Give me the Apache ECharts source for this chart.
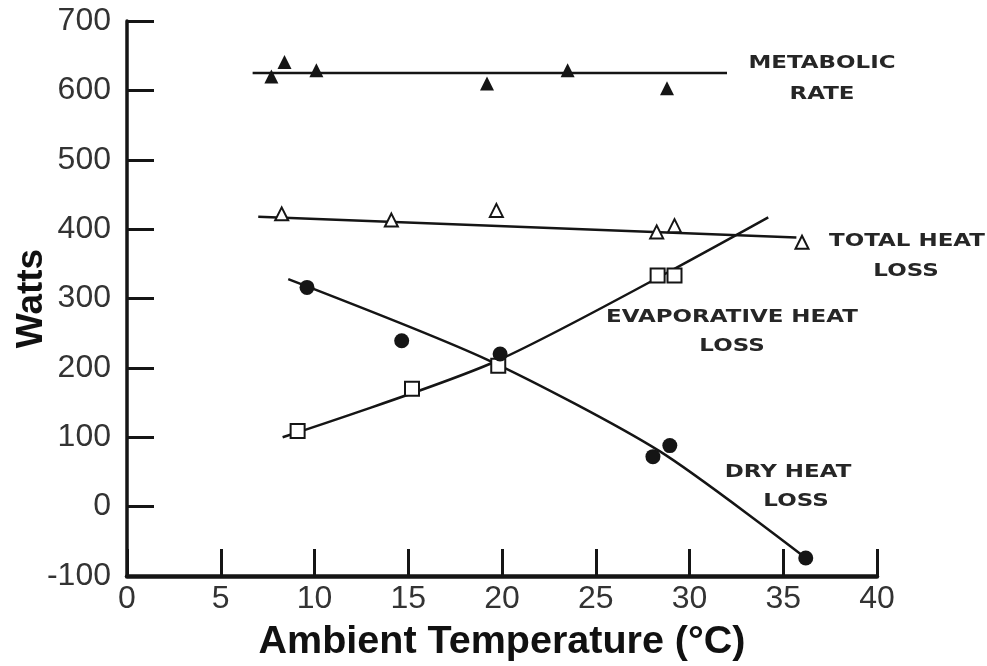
<!DOCTYPE html>
<html>
<head>
<meta charset="utf-8">
<script src="https://cdn.jsdelivr.net/npm/echarts@6/dist/echarts.min.js"></script>
<style>
  html, body { margin: 0; padding: 0; background: #fff; }
  #chart { width: 987px; height: 666px; }
</style>
</head>
<body>
<div id="chart"></div>
<script>
// Heat balance vs ambient temperature (watts)
const xTicks = [0, 5, 10, 15, 20, 25, 30, 35, 40];
const yTicks = [-100, 0, 100, 200, 300, 400, 500, 600, 700];

// Measured points [ambient °C, watts]
const metabolicPts = [[7.7, 620], [8.4, 641], [10.1, 629], [19.2, 610], [23.5, 629], [28.8, 603]];
const totalPts = [[8.25, 422], [14.1, 413], [19.7, 427], [28.25, 396], [29.2, 405], [36.0, 381]];
const evapPts = [[9.1, 109], [15.2, 170], [19.8, 203], [28.3, 333], [29.2, 333]];
const dryPts = [[9.6, 316], [14.65, 239], [19.9, 220], [28.05, 72], [28.95, 88], [36.2, -74]];

// Fitted trend lines
const metabolicFit = [[6.7, 625], [32.0, 625]];
const totalFit = [[7.0, 418], [35.7, 388]];
const evapFit = [[8.3, 100], [19.8, 211], [34.2, 417]];
const dryFit = [[8.6, 328], [19.2, 212], [28.4, 80], [36.2, -74]];

const ink = '#151515';
const labelFont = 'DejaVu Sans';

const chart = echarts.init(document.getElementById('chart'), null, { renderer: 'canvas' });

function fitLine(data, smooth) {
  return {
    type: 'line', data: data, showSymbol: false, smooth: smooth || false, z: 2,
    lineStyle: { color: ink, width: 2.5 }, silent: true
  };
}
function points(data, symbol, size, filled) {
  return {
    type: 'scatter', data: data, symbol: symbol, symbolSize: size, z: 5,
    itemStyle: filled ? { color: ink, opacity: 1 } : { color: '#fff', borderColor: ink, borderWidth: 2, opacity: 1 }
  };
}

// Series captions, stretched horizontally like the original block lettering
function label(text, x, y) {
  return {
    type: 'text', x: x, y: y, scaleX: 1.35,
    style: { text: text, fill: '#262626', font: 'bold 17px "' + labelFont + '"', align: 'center', verticalAlign: 'middle' }
  };
}

chart.setOption({
  animation: false,
  grid: { left: 127, right: 110, top: 21, bottom: 90, containLabel: false, outerBoundsMode: 'none' },
  xAxis: {
    type: 'value', min: 0, max: 40, interval: 5,
    name: 'Ambient Temperature (°C)', nameLocation: 'middle', nameGap: 46, nameMoveOverlap: false,
    nameTextStyle: { fontFamily: 'Liberation Sans', fontWeight: 'bold', fontSize: 39.5, color: '#111' },
    axisLine: { onZero: false, lineStyle: { color: ink, width: 4.5 } },
    axisTick: { inside: true, length: 27, lineStyle: { color: ink, width: 3 } },
    axisLabel: { fontFamily: 'Liberation Sans', fontSize: 32, color: '#333', margin: 7,
      formatter: v => xTicks.includes(v) ? String(v) : '' },
    splitLine: { show: false }
  },
  yAxis: {
    type: 'value', min: -100, max: 700, interval: 100,
    name: 'Watts', nameLocation: 'middle', nameGap: 77, nameRotate: 90, nameMoveOverlap: false,
    nameTextStyle: { fontFamily: 'Liberation Sans', fontWeight: 'bold', fontSize: 37, color: '#111' },
    axisLine: { onZero: false, lineStyle: { color: ink, width: 3.5 } },
    axisTick: { inside: true, length: 27, lineStyle: { color: ink, width: 3 } },
    axisLabel: { fontFamily: 'Liberation Sans', fontSize: 32, color: '#333', margin: 16,
      formatter: v => yTicks.includes(v) ? String(v) : '' },
    splitLine: { show: false }
  },
  series: [
    fitLine(metabolicFit),
    fitLine(totalFit),
    fitLine(evapFit, 0.25),
    fitLine(dryFit, 0.25),
    points(metabolicPts, 'triangle', 14, true),
    points(totalPts, 'triangle', 13, false),
    points(evapPts, 'rect', 14, false),
    points(dryPts, 'circle', 15, true)
  ],
  graphic: [
    label('METABOLIC', 822, 64), label('RATE', 822, 95),
    label('TOTAL HEAT', 907, 242), label('LOSS', 906, 272),
    label('EVAPORATIVE HEAT', 732, 318), label('LOSS', 732, 347),
    label('DRY HEAT', 788, 473), label('LOSS', 796, 502)
  ]
});
</script>
</body>
</html>
